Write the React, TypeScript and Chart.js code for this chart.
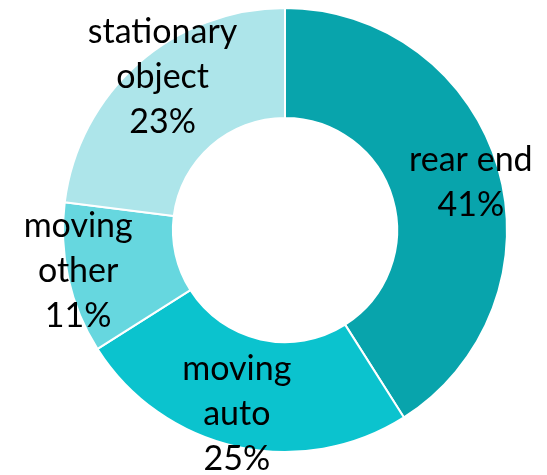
import React, { useEffect, useRef } from "react";
import { Chart, registerables } from "chart.js";

Chart.register(...registerables);

const categories = ["rear end", "moving auto", "moving other", "stationary object"];
const labelLines = [["rear end"], ["moving", "auto"], ["moving", "other"], ["stationary", "object"]];
const values = [41, 25, 11, 23];
const colors = ["#08A4AC", "#0BC3CE", "#66D7DF", "#ADE5EA"];

const labelPlugin = {
  id: "sliceLabels",
  afterDatasetsDraw(chart: any, _args: any, opts: any) {
    const ctx = chart.ctx;
    const meta = chart.getDatasetMeta(0);
    const total = values.reduce((a, b) => a + b, 0);
    ctx.save();
    ctx.fillStyle = "#000000";
    ctx.font = opts.font;
    ctx.textAlign = "center";
    ctx.textBaseline = "middle";
    meta.data.forEach((arc: any, i: number) => {
      const p = arc.getProps(["x", "y", "startAngle", "endAngle", "outerRadius"], true);
      const mid = (p.startAngle + p.endAngle) / 2 + (opts.angleOffsets[i] * Math.PI) / 180;
      const r = p.outerRadius * opts.radiusFactors[i];
      const cx = p.x + Math.cos(mid) * r;
      const cy = p.y + Math.sin(mid) * r;
      const lines = [...labelLines[i], Math.round((values[i] / total) * 100) + "%"];
      const lh = opts.lineHeight;
      const startY = cy - ((lines.length - 1) * lh) / 2;
      lines.forEach((t, k) => ctx.fillText(t, cx, startY + k * lh));
    });
    ctx.restore();
  },
};

export default function App() {
  const ref = useRef<HTMLCanvasElement>(null);
  useEffect(() => {
    const chart = new Chart(ref.current!, {
      type: "doughnut",
      data: {
        labels: categories,
        datasets: [
          {
            data: values,
            backgroundColor: colors,
            borderColor: "#ffffff",
            borderWidth: 2,
          },
        ],
      },
      options: {
        animation: false,
        responsive: false,
        cutout: "50.5%",
        layout: { padding: { left: 62, right: 39, top: 7, bottom: 22 } },
        plugins: {
          legend: { display: false },
          tooltip: { enabled: false },
          sliceLabels: {
            font: "34px Lato",
            lineHeight: 45,
            radiusFactors: [0.864, 0.855, 0.95, 0.882],
            angleOffsets: [1.9, 2.1, 1.3, 2.7],
          },
        } as any,
      },
      plugins: [labelPlugin],
    });
    return () => chart.destroy();
  }, []);
  return (
    <div style={{ position: "fixed", left: 0, top: 0, width: 547, height: 475, background: "#fff" }}>
      <canvas ref={ref} width={547} height={475} style={{ width: 547, height: 475 }} />
    </div>
  );
}
